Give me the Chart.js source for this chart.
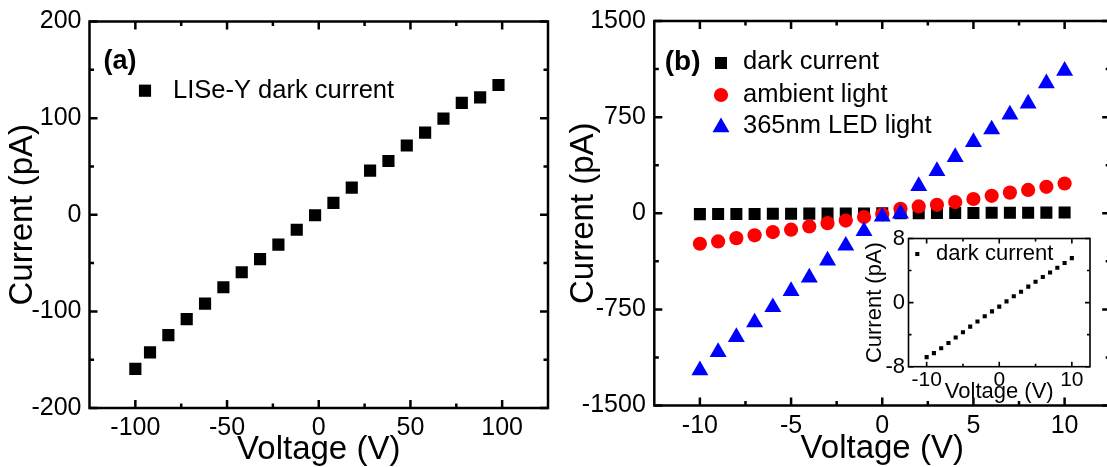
<!DOCTYPE html>
<html>
<head>
<meta charset="utf-8">
<script src="https://cdn.jsdelivr.net/npm/chart.js@4.4.1/dist/chart.umd.min.js"></script>
<style>
  html, body { margin: 0; padding: 0; background: #fff; overflow: hidden; width: 1107px; height: 467px; }
  canvas { position: absolute; }
  #chartA { left: 0; top: 0; }
  #chartB { left: 560px; top: 0; }
  #chartInset { left: 850px; top: 224px; }
</style>
</head>
<body>
<canvas id="chartA" width="560" height="467"></canvas>
<canvas id="chartB" width="560" height="467"></canvas>
<canvas id="chartInset" width="257" height="186"></canvas>
<script>
// ---- Panel (a): LISe-Y dark current over the wide voltage sweep ----
const voltageA = [-100, -92, -82, -72, -62, -52, -42, -32, -22, -12, -2, 8, 18, 28, 38, 48, 58, 68, 78, 88, 98];
const darkCurrentA = [-159.5, -142.5, -124.5, -108, -92, -75, -59.5, -46, -31, -15.5, -0.5, 12.3, 28, 45.6, 55.6, 71.7, 85, 99.5, 115.8, 121.5, 134.3];

// ---- Panel (b): ±10 V sweep under three illumination conditions ----
const voltageB = [-10, -9, -8, -7, -6, -5, -4, -3, -2, -1, 0, 1, 2, 3, 4, 5, 6, 7, 8, 9, 10];
const darkCurrentB = [-6.8, -6.3, -5.7, -5.05, -4.35, -3.7, -3.0, -2.35, -1.7, -1.1, -0.5, 0.15, 0.8, 1.35, 2.0, 2.6, 3.2, 3.75, 4.35, 4.95, 5.55];
const ambientLightB = [-238, -220, -194, -172, -147, -128, -103, -77, -57, -30, -8, 35, 53, 66, 87, 111, 136, 161, 182, 206, 232];
const ledLightB = [-1225, -1083, -966, -852, -733, -607, -502, -370, -253, -140, -27, -2, 212, 329, 438, 555, 654, 770, 855, 1014, 1112];

// ---- Tick values ----
const ticksAX = [-100, -50, 0, 50, 100];
const minorAX = [-75, -25, 25, 75];
const ticksAY = [-200, -100, 0, 100, 200];
const minorAY = [-150, -50, 50, 150];
const ticksBX = [-10, -5, 0, 5, 10];
const minorBX = [-7.5, -2.5, 2.5, 7.5];
const ticksBY = [-1500, -750, 0, 750, 1500];
const minorBY = [-1125, -375, 375, 1125];
const ticksInsetX = [-10, 0, 10];
const minorInsetX = [-5, 5];
const ticksInsetY = [-8, 0, 8];
const minorInsetY = [-4, 4];

const FONT = "'Liberation Sans', Arial, Helvetica, sans-serif";
Chart.defaults.color = '#000';
Chart.defaults.font.family = FONT;

const toPoints = (xs, ys) => xs.map((v, i) => ({ x: v, y: ys[i] }));

// Box frame with inward major/minor ticks on all four sides
const framePlugin = {
  id: 'frame',
  afterDatasetsDraw(chart, args, o) {
    const { ctx, chartArea: a, scales } = chart;
    const x = scales.x, y = scales.y;
    ctx.save();
    ctx.strokeStyle = '#000';
    ctx.lineWidth = o.lineWidth;
    ctx.lineCap = 'butt';
    ctx.beginPath();
    const xt = (vals, len) => vals.forEach(v => {
      const p = x.getPixelForValue(v);
      ctx.moveTo(p, a.bottom); ctx.lineTo(p, a.bottom - len);
      ctx.moveTo(p, a.top); ctx.lineTo(p, a.top + len);
    });
    const yt = (vals, len) => vals.forEach(v => {
      const p = y.getPixelForValue(v);
      ctx.moveTo(a.left, p); ctx.lineTo(a.left + len, p);
      ctx.moveTo(a.right, p); ctx.lineTo(a.right - len, p);
    });
    xt(o.xMajor, o.majorLen); xt(o.xMinor, o.minorLen);
    yt(o.yMajor, o.majorLen); yt(o.yMinor, o.minorLen);
    ctx.stroke();
    ctx.strokeRect(a.left, a.top, a.right - a.left, a.bottom - a.top);
    ctx.restore();
  }
};

// Panel letter and symbol key drawn inside the plot
const keyPlugin = {
  id: 'key',
  afterDraw(chart, args, o) {
    const ctx = chart.ctx;
    ctx.save();
    if (o.panel) {
      ctx.font = `bold ${o.panel.size}px ${FONT}`;
      ctx.fillStyle = '#000';
      ctx.textAlign = 'left';
      ctx.textBaseline = 'middle';
      ctx.fillText(o.panel.text, o.panel.x, o.panel.y);
    }
    (o.items || []).forEach(it => {
      ctx.fillStyle = it.color;
      Chart.helpers.drawPoint(ctx, { pointStyle: it.style, radius: it.radius, borderWidth: 0, rotation: 0 }, it.mx, it.my);
      ctx.fillStyle = '#000';
      ctx.font = `${o.fontSize}px ${FONT}`;
      ctx.textAlign = 'left';
      ctx.textBaseline = 'middle';
      ctx.fillText(it.text, it.tx, it.ty);
    });
    ctx.restore();
  }
};

function axis(min, max, values, opts) {
  return {
    type: 'linear',
    min, max,
    position: opts.position,
    grid: { display: false, drawTicks: false },
    border: { display: false },
    afterBuildTicks: s => { s.ticks = values.map(v => ({ value: v })); },
    afterFit: s => { if (opts.width !== undefined) s.width = opts.width; if (opts.height !== undefined) s.height = opts.height; },
    ticks: {
      autoSkip: false, maxRotation: 0, minRotation: 0,
      padding: opts.tickPad,
      font: { size: opts.tickSize, lineHeight: 1 },
      callback: v => String(v)
    },
    title: {
      display: true,
      text: opts.title,
      font: { size: opts.titleSize, lineHeight: 1 },
      padding: opts.titlePad
    }
  };
}

const common = {
  responsive: false,
  animation: false,
  events: [],
  plugins: { legend: { display: false }, tooltip: { enabled: false } }
};

// ---- Chart (a) ----
new Chart(document.getElementById('chartA'), {
  type: 'scatter',
  data: {
    datasets: [{
      label: 'LISe-Y dark current',
      data: toPoints(voltageA, darkCurrentA),
      pointStyle: 'rect', pointRadius: 8.6,
      pointBackgroundColor: '#000', pointBorderWidth: 0
    }]
  },
  options: {
    ...common,
    layout: { padding: { top: 21.5, right: 12, bottom: 0, left: 0 } },
    scales: {
      x: axis(-125, 125, ticksAX, { position: 'bottom', height: 59, tickPad: 7.5, tickSize: 25, title: 'Voltage (V)', titleSize: 33, titlePad: { top: 0, bottom: 0.5 } }),
      y: axis(-200, 200, ticksAY, { position: 'left', width: 89.5, tickPad: 8, tickSize: 25, title: 'Current (pA)', titleSize: 33, titlePad: { top: 6.8, bottom: 0 } })
    },
    plugins: {
      ...common.plugins,
      frame: { lineWidth: 2.5, majorLen: 8, minorLen: 4.5, xMajor: ticksAX, xMinor: minorAX, yMajor: ticksAY, yMinor: minorAY },
      key: {
        fontSize: 25.5,
        panel: { text: '(a)', x: 103.5, y: 62, size: 27 },
        items: [{ style: 'rect', radius: 8.6, color: '#000', mx: 145, my: 90.7, text: 'LISe-Y dark current', tx: 173, ty: 91 }]
      }
    }
  },
  plugins: [framePlugin, keyPlugin]
});

// ---- Chart (b) ----
new Chart(document.getElementById('chartB'), {
  type: 'scatter',
  data: {
    datasets: [
      { label: 'dark current', order: 2, data: toPoints(voltageB, darkCurrentB),
        pointStyle: 'rect', pointRadius: 8.5, pointBackgroundColor: '#000', pointBorderWidth: 0 },
      { label: 'ambient light', order: 1, data: toPoints(voltageB, ambientLightB),
        pointStyle: 'circle', pointRadius: 7.1, pointBackgroundColor: '#ff0000', pointBorderWidth: 0 },
      { label: '365nm LED light', order: 0, data: toPoints(voltageB, ledLightB),
        pointStyle: 'triangle', pointRadius: 9.8, pointBackgroundColor: '#0000ff', pointBorderWidth: 0 }
    ]
  },
  options: {
    ...common,
    layout: { padding: { top: 20.7, right: 9.3, bottom: 0, left: 0 } },
    scales: {
      x: axis(-12.5, 12.5, ticksBX, { position: 'bottom', height: 61.5, tickPad: 8, tickSize: 25, title: 'Voltage (V)', titleSize: 33, titlePad: { top: 0, bottom: 1.5 } }),
      y: axis(-1500, 1500, ticksBY, { position: 'left', width: 94.3, tickPad: 8.5, tickSize: 25, title: 'Current (pA)', titleSize: 33, titlePad: { top: 7, bottom: 0 } })
    },
    plugins: {
      ...common.plugins,
      frame: { lineWidth: 2.5, majorLen: 8, minorLen: 4.5, xMajor: ticksBX, xMinor: minorBX, yMajor: ticksBY, yMinor: minorBY },
      key: {
        fontSize: 25.5,
        panel: { text: '(b)', x: 104.7, y: 62, size: 28 },
        items: [
          { style: 'rect', radius: 8.5, color: '#000', mx: 161, my: 63, text: 'dark current', tx: 183, ty: 62 },
          { style: 'circle', radius: 7.1, color: '#ff0000', mx: 161, my: 95, text: 'ambient light', tx: 183, ty: 95 },
          { style: 'triangle', radius: 9.8, color: '#0000ff', mx: 161, my: 127.4, text: '365nm LED light', tx: 183, ty: 126 }
        ]
      }
    }
  },
  plugins: [framePlugin, keyPlugin]
});

// ---- Inset: dark current on its own scale ----
new Chart(document.getElementById('chartInset'), {
  type: 'scatter',
  data: {
    datasets: [{
      label: 'dark current',
      data: toPoints(voltageB, darkCurrentB),
      pointStyle: 'rect', pointRadius: 2.9,
      pointBackgroundColor: '#000', pointBorderWidth: 0
    }]
  },
  options: {
    ...common,
    layout: { padding: { top: 10, right: 17, bottom: 0, left: 0 } },
    scales: {
      x: axis(-12.5, 12.5, ticksInsetX, { position: 'bottom', height: 43.3, tickPad: 3.3, tickSize: 21, title: 'Voltage (V)', titleSize: 22, titlePad: { top: 0, bottom: 7.3 } }),
      y: axis(-8, 8, ticksInsetY, { position: 'left', width: 58.5, tickPad: 3.5, tickSize: 22, title: 'Current (pA)', titleSize: 22, titlePad: { top: 14, bottom: 0 } })
    },
    plugins: {
      ...common.plugins,
      frame: { lineWidth: 1.6, majorLen: 5, minorLen: 3, xMajor: ticksInsetX, xMinor: minorInsetX, yMajor: ticksInsetY, yMinor: minorInsetY },
      key: {
        fontSize: 22,
        items: [{ style: 'rect', radius: 2.9, color: '#000', mx: 67.3, my: 30, text: 'dark current', tx: 86, ty: 30 }]
      }
    }
  },
  plugins: [framePlugin, keyPlugin]
});
</script>
</body>
</html>
